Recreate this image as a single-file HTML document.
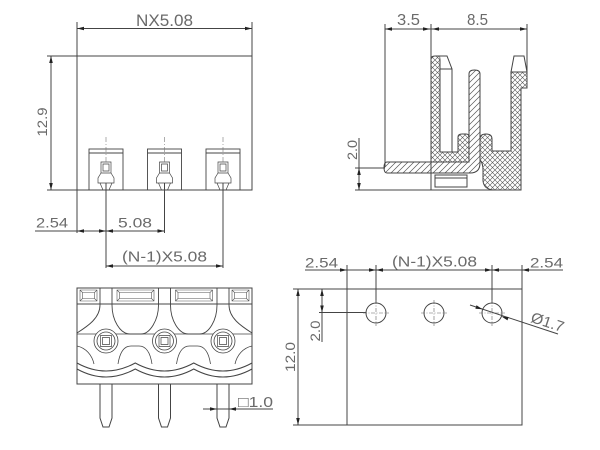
<!DOCTYPE html>
<html><head><meta charset="utf-8"><style>
html,body{margin:0;padding:0;background:#fff;}
svg{display:block;}
text{font-family:"Liberation Sans","DejaVu Sans",sans-serif;fill:#6a6a6a;}
</style></head><body>
<svg width="600" height="450" viewBox="0 0 600 450" xmlns="http://www.w3.org/2000/svg">
<defs>
<pattern id="xh" patternUnits="userSpaceOnUse" width="5" height="5">
<path d="M0,0 L5,5 M5,0 L0,5" stroke="#555" stroke-width="0.6"/>
</pattern>
<pattern id="dh" patternUnits="userSpaceOnUse" width="6" height="6">
<path d="M-1,7 L7,-1 M-1,1 L1,-1 M5,7 L7,5" stroke="#555" stroke-width="0.7"/>
</pattern>
</defs>
<rect width="600" height="450" fill="#fff"/>
<g stroke="#444" stroke-width="1" fill="none">
<!-- ===== TOP LEFT VIEW ===== -->
<line x1="77" y1="22" x2="77" y2="233"/>
<line x1="252" y1="22" x2="252" y2="190"/>
<line x1="77" y1="28.5" x2="252" y2="28.5"/>
<rect x="77" y="56" width="175" height="134"/>
<line x1="47" y1="56" x2="77" y2="56"/>
<line x1="47" y1="190" x2="77" y2="190"/>
<line x1="51" y1="56" x2="51" y2="190"/>
<!-- pin boxes -->
<g stroke-width="0.9">
<rect x="89" y="149" width="34" height="41"/><line x1="89" y1="153" x2="123" y2="153"/>
<rect x="147.5" y="149" width="34" height="41"/><line x1="147.5" y1="153" x2="181.5" y2="153"/>
<rect x="206" y="149" width="34" height="41"/><line x1="206" y1="153" x2="240" y2="153"/>
</g>
<g stroke-width="0.7">
<path d="M101,162 h10 v11 h-10z M103,164 h6 v7 h-6z M101,173 L98,178 L98,183 L114,183 L114,178 L111,173 M100,183 L103,190 M112,183 L109,190"/>
<path d="M159.5,162 h10 v11 h-10z M161.5,164 h6 v7 h-6z M159.5,173 L156.5,178 L156.5,183 L172.5,183 L172.5,178 L169.5,173 M158.5,183 L161.5,190 M170.5,183 L167.5,190"/>
<path d="M218,162 h10 v11 h-10z M220,164 h6 v7 h-6z M218,173 L215,178 L215,183 L231,183 L231,178 L228,173 M217,183 L220,190 M229,183 L226,190"/>
</g>
<g stroke="#777" stroke-width="0.6" stroke-dasharray="5,2,1,2">
<line x1="106" y1="137" x2="106" y2="162"/>
<line x1="164.5" y1="137" x2="164.5" y2="162"/>
<line x1="223" y1="137" x2="223" y2="162"/>
</g>
<line x1="106" y1="183" x2="106" y2="268"/>
<line x1="164.5" y1="183" x2="164.5" y2="233"/>
<line x1="223" y1="183" x2="223" y2="268"/>
<line x1="35" y1="231" x2="164.5" y2="231"/>
<line x1="106" y1="266" x2="223" y2="266"/>

<!-- ===== TOP RIGHT VIEW ===== -->
<line x1="385" y1="24" x2="385" y2="167"/>
<line x1="431" y1="24" x2="431" y2="190"/>
<line x1="527" y1="24" x2="527" y2="75"/>
<line x1="385" y1="29" x2="527" y2="29"/>
<line x1="355" y1="168" x2="385" y2="168"/>
<line x1="355" y1="190" x2="521" y2="190"/>
<line x1="359" y1="138" x2="359" y2="190"/>
<!-- left body -->
<path d="M431,153 L431,59 Q431,56 435,56 L440,56 L440,152 L458,152 L458,137 Q458,134 462,134 L466,134 Q469,134 469,137 L469,162 L431,162 Z" fill="url(#xh)"/>
<path d="M440,56 L447,56 L452,69 L452,152 M440,69 L452,69" fill="#fff"/>
<!-- middle pin -->
<path d="M387,162 L469,162 L469,74 Q469,70 474.5,70 Q480,70 480,74 L480,163 Q480,173 470,173 L387,173 Q384,173 384,167.5 Q384,162 387,162 Z" fill="url(#dh)"/>
<!-- right body -->
<path d="M511,72 L527,72 L527,88 L521,88 L521,190 L495,190 Q484,190 483,181 L483,170 Q483,163 480,160 L480,139 Q480,134 486,134 Q492,134 492,139 L492,151 L511,151 Z" fill="url(#xh)"/>
<path d="M511,72 L514,56 L524,56 L527,72 Z" fill="#fff"/>
<!-- bottom small rect -->
<rect x="435" y="175" width="32" height="12" fill="#fff"/>
<line x1="435" y1="178" x2="467" y2="178"/>

<!-- ===== BOTTOM LEFT VIEW ===== -->
<rect x="77" y="288" width="175" height="96"/>
<line x1="77" y1="304" x2="252" y2="304"/>
<line x1="77" y1="334" x2="252" y2="334" stroke-width="0.8"/>
<!-- posts -->
<path stroke-width="0.9" d="M100,288 V305 C100,318 88,326 77,333 M112,288 V305 C112,320 120,334 130,334 L141,334 C150,334 158.5,320 158.5,305 V288 M170.5,288 V305 C170.5,320 178.5,334 188.5,334 L199.5,334 C209,334 217,320 217,305 V288 M229,288 V305 C229,318 241,326 252,333"/>
<!-- slots -->
<g stroke-width="0.6" stroke="#555">
<path d="M80,290 h17 v11 h-17z M82.5,292.5 h12 v6 h-12z M80,290 l2.5,2.5 M97,290 l-2.5,2.5 M80,301 l2.5,-2.5 M97,301 l-2.5,-2.5"/>
<path d="M117,290 h37 v11 h-37z M119.5,292.5 h32 v6 h-32z M117,290 l2.5,2.5 M154,290 l-2.5,2.5 M117,301 l2.5,-2.5 M154,301 l-2.5,-2.5"/>
<path d="M175.5,290 h37 v11 h-37z M178,292.5 h32 v6 h-32z M175.5,290 l2.5,2.5 M212.5,290 l-2.5,2.5 M175.5,301 l2.5,-2.5 M212.5,301 l-2.5,-2.5"/>
<path d="M232,290 h17 v11 h-17z M234.5,292.5 h12 v6 h-12z M232,290 l2.5,2.5 M249,290 l-2.5,2.5 M232,301 l2.5,-2.5 M249,301 l-2.5,-2.5"/>
</g>
<!-- arches -->
<path stroke-width="0.8" d="M77,346 C86,348 92,355 94,364 M118,364 C120,351 125,346 131,346 L139,346 C145,346 150,351 152,364 M176.5,364 C178.5,351 183.5,346 189.5,346 L197.5,346 C203.5,346 208.5,351 210.5,364 M235,364 C237,355 243,348 252,346"/>
<!-- waves -->
<path d="M77,363 Q106,379 135.25,363 Q164.5,379 193.75,363 Q223,379 252,363"/>
<path d="M77,369 Q106,385 135.25,369 Q164.5,385 193.75,369 Q223,385 252,369"/>
<!-- circles -->
<g fill="#fff" stroke-width="0.8">
<circle cx="106" cy="341" r="12"/><circle cx="106" cy="341" r="9"/>
<circle cx="164.5" cy="341" r="12"/><circle cx="164.5" cy="341" r="9"/>
<circle cx="223" cy="341" r="12"/><circle cx="223" cy="341" r="9"/>
</g>
<path stroke-width="0.7" d="M100.5,335.5 h11 v11 h-11z M102.5,337.5 h7 v7 h-7z M159,335.5 h11 v11 h-11z M161,337.5 h7 v7 h-7z M217.5,335.5 h11 v11 h-11z M219.5,337.5 h7 v7 h-7z"/>
<!-- pins -->
<path d="M100,384 V418 L103,427 H109 L112,418 V384 M158.5,384 V418 L161.5,427 H167.5 L170.5,418 V384 M217,384 V418 L220,427 H226 L229,418 V384"/>
<line x1="203" y1="409" x2="273" y2="409"/>

<!-- ===== BOTTOM RIGHT VIEW ===== -->
<rect x="347" y="289" width="175" height="136"/>
<line x1="305" y1="270" x2="563" y2="270"/>
<line x1="347" y1="265" x2="347" y2="289"/>
<line x1="522" y1="265" x2="522" y2="289"/>
<line x1="376" y1="265" x2="376" y2="303"/>
<line x1="492" y1="265" x2="492" y2="303"/>
<line x1="293" y1="289" x2="347" y2="289"/>
<line x1="293" y1="425" x2="347" y2="425"/>
<line x1="298" y1="289" x2="298" y2="425"/>
<line x1="322" y1="289" x2="322" y2="342"/>
<line x1="319" y1="312.5" x2="366" y2="312.5"/>
<circle cx="376" cy="313" r="10"/>
<circle cx="434" cy="313" r="10"/>
<circle cx="492" cy="313" r="10"/>
<g stroke="#666" stroke-width="0.6" stroke-dasharray="4,1.5,1,1.5">
<path d="M363,313 h26 M376,300 v26 M421,313 h26 M434,300 v26 M479,313 h26 M492,300 v26"/>
</g>
<line x1="470" y1="305" x2="558" y2="334"/>
</g>

<!-- arrowheads -->
<g fill="#222" stroke="none">
<polygon points="77,28.5 84,26.7 84,30.3"/>
<polygon points="252,28.5 245,26.7 245,30.3"/>
<polygon points="51,56 49.2,63 52.8,63"/>
<polygon points="51,190 49.2,183 52.8,183"/>
<polygon points="77,231 84,229.2 84,232.8"/>
<polygon points="106,231 99,229.2 99,232.8"/>
<polygon points="106,231 113,229.2 113,232.8"/>
<polygon points="164.5,231 157.5,229.2 157.5,232.8"/>
<polygon points="106,266 113,264.2 113,267.8"/>
<polygon points="223,266 216,264.2 216,267.8"/>
<polygon points="385,29 392,27.2 392,30.8"/>
<polygon points="430,29 423,27.2 423,30.8"/>
<polygon points="432,29 439,27.2 439,30.8"/>
<polygon points="527,29 520,27.2 520,30.8"/>
<polygon points="359,168 357.2,175 360.8,175"/>
<polygon points="359,190 357.2,183 360.8,183"/>
<polygon points="217,409 210,407.2 210,410.8"/>
<polygon points="229,409 236,407.2 236,410.8"/>
<polygon points="347,270 340,268.2 340,271.8"/>
<polygon points="376,270 383,268.2 383,271.8"/>
<polygon points="376,270 369,268.2 369,271.8"/>
<polygon points="492,270 485,268.2 485,271.8"/>
<polygon points="492,270 499,268.2 499,271.8"/>
<polygon points="522,270 529,268.2 529,271.8"/>
<polygon points="298,289 296.2,296 299.8,296"/>
<polygon points="298,425 296.2,418 299.8,418"/>
<polygon points="322,289 320.2,296 323.8,296"/>
<polygon points="322,312.5 320.2,305.5 323.8,305.5"/>
<polygon points="482.5,309.2 475.4,308.7 476.5,305.3"/>
<polygon points="501.5,316.5 508.6,317 507.5,320.4"/>
</g>

<!-- text -->
<text x="136" y="26" font-size="17" textLength="57" lengthAdjust="spacingAndGlyphs">NX5.08</text>
<text transform="translate(47,122) rotate(-90)" text-anchor="middle" font-size="14" textLength="29" lengthAdjust="spacingAndGlyphs">12.9</text>
<text x="36" y="227.5" font-size="14" textLength="32" lengthAdjust="spacingAndGlyphs">2.54</text>
<text x="118" y="227.5" font-size="14" textLength="34" lengthAdjust="spacingAndGlyphs">5.08</text>
<text x="122" y="261.5" font-size="15" textLength="85" lengthAdjust="spacingAndGlyphs">(N-1)X5.08</text>
<text x="397" y="25" font-size="16" textLength="23" lengthAdjust="spacingAndGlyphs">3.5</text>
<text x="467" y="25" font-size="16" textLength="21" lengthAdjust="spacingAndGlyphs">8.5</text>
<text transform="translate(357,150) rotate(-90)" text-anchor="middle" font-size="14" textLength="20" lengthAdjust="spacingAndGlyphs">2.0</text>
<text x="238" y="407" font-size="15" textLength="35" lengthAdjust="spacingAndGlyphs">□1.0</text>
<text x="305" y="267.5" font-size="14" textLength="33" lengthAdjust="spacingAndGlyphs">2.54</text>
<text x="392" y="266.5" font-size="15" textLength="85" lengthAdjust="spacingAndGlyphs">(N-1)X5.08</text>
<text x="530" y="267.5" font-size="14" textLength="33" lengthAdjust="spacingAndGlyphs">2.54</text>
<text transform="translate(295,357) rotate(-90)" text-anchor="middle" font-size="14" textLength="30" lengthAdjust="spacingAndGlyphs">12.0</text>
<text transform="translate(320,331) rotate(-90)" text-anchor="middle" font-size="14" textLength="21" lengthAdjust="spacingAndGlyphs">2.0</text>
<text transform="translate(546,327) rotate(18)" text-anchor="middle" font-size="15" textLength="34" lengthAdjust="spacingAndGlyphs">Ø1.7</text>
</svg>
</body></html>
